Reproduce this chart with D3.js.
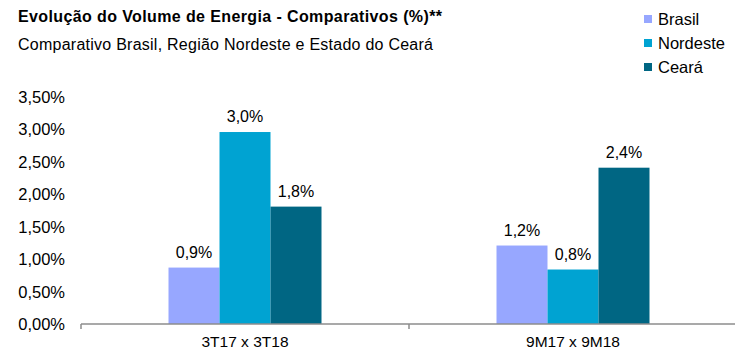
<!DOCTYPE html>
<html>
<head>
<meta charset="utf-8">
<script src="https://cdn.jsdelivr.net/npm/d3@7"></script>
<style>
  body { margin: 0; background: #fff; }
  text { font-family: "Liberation Sans", Arial, sans-serif; fill: #000; }
</style>
</head>
<body>
<div id="chart"></div>
<script>
const WIDTH = 735
const HEIGHT = 351

const categories = ["3T17 x 3T18", "9M17 x 9M18"]
const series = ["Brasil", "Nordeste", "Ceará"]
const colors = ["#97a7ff", "#00a3d2", "#006683"]
const brasil = [0.87, 1.21]
const nordeste = [2.96, 0.84]
const ceara = [1.81, 2.41]
const yTicks = [0, 0.5, 1, 1.5, 2, 2.5, 3, 3.5]

const values = [brasil, nordeste, ceara]
const rows = categories.map((c, i) => ({
    cat: c,
    vals: series.map((s, j) => ({ key: s, value: values[j][i], color: colors[j] }))
}))

const svg = d3.select("#chart")
    .append("svg")
    .attr("width", WIDTH)
    .attr("height", HEIGHT)

const PLOT_LEFT = 81, PLOT_RIGHT = 737, PLOT_BOTTOM = 324, PLOT_TOP = 97

const x0 = d3.scaleBand().domain(categories).range([PLOT_LEFT, PLOT_RIGHT])
const groupW = 153
const x1 = d3.scaleBand().domain(series)
    .range([(x0.bandwidth() - groupW) / 2, (x0.bandwidth() + groupW) / 2])
const y = d3.scaleLinear().domain([0, 3.5]).range([PLOT_BOTTOM, PLOT_TOP])

const fmt = v => d3.format(".2f")(v).replace(".", ",") + "%"
const fmt1 = v => d3.format(".1f")(v).replace(".", ",") + "%"

// y labels (no axis line)
svg.append("g")
    .selectAll("text")
    .data(yTicks)
    .join("text")
    .attr("x", 65)
    .attr("y", d => y(d) + 6)
    .attr("text-anchor", "end")
    .style("font-size", "16.5px")
    .text(fmt)

// bars
const g = svg.append("g")
    .selectAll("g")
    .data(rows)
    .join("g")
    .attr("transform", d => `translate(${x0(d.cat)},0)`)

g.selectAll("rect")
    .data(d => d.vals)
    .join("rect")
    .attr("x", d => x1(d.key))
    .attr("y", d => y(d.value))
    .attr("width", x1.bandwidth())
    .attr("height", d => PLOT_BOTTOM - y(d.value))
    .attr("fill", d => d.color)

g.selectAll("text.val")
    .data(d => d.vals)
    .join("text")
    .attr("class", "val")
    .attr("x", d => x1(d.key) + x1.bandwidth() / 2)
    .attr("y", d => y(d.value) - 10)
    .attr("text-anchor", "middle")
    .style("font-size", "16px")
    .text(d => fmt1(d.value))

// x axis
const xAxis = svg.append("g")
xAxis.append("line")
    .attr("x1", PLOT_LEFT).attr("x2", PLOT_RIGHT)
    .attr("y1", PLOT_BOTTOM).attr("y2", PLOT_BOTTOM)
    .attr("stroke", "#8c8c8c").attr("stroke-width", 1.5)
xAxis.selectAll("line.tick")
    .data([PLOT_LEFT, x0(categories[1])])
    .join("line")
    .attr("class", "tick")
    .attr("x1", d => d).attr("x2", d => d)
    .attr("y1", PLOT_BOTTOM).attr("y2", PLOT_BOTTOM + 5)
    .attr("stroke", "#8c8c8c").attr("stroke-width", 1.5)
xAxis.selectAll("text")
    .data(categories)
    .join("text")
    .attr("x", d => x0(d) + x0.bandwidth() / 2)
    .attr("y", 347)
    .attr("text-anchor", "middle")
    .style("font-size", "15.5px")
    .text(d => d)

// titles
svg.append("text")
    .attr("x", 18).attr("y", 22)
    .attr("textLength", 424)
    .attr("lengthAdjust", "spacing")
    .style("font-size", "16px")
    .style("font-weight", "bold")
    .text("Evolução  do Volume de Energia - Comparativos (%)**")
svg.append("text")
    .attr("x", 18).attr("y", 50)
    .attr("textLength", 415)
    .attr("lengthAdjust", "spacing")
    .style("font-size", "16px")
    .text("Comparativo  Brasil, Região  Nordeste e Estado do Ceará")

// legend
const legend = svg.append("g")
    .selectAll("g")
    .data(series)
    .join("g")
    .attr("transform", (d, i) => `translate(644,${19 + i * 24})`)
legend.append("rect")
    .attr("width", 8).attr("height", 8)
    .attr("y", -4)
    .attr("fill", (d, i) => colors[i])
legend.append("text")
    .attr("x", 14).attr("y", 6)
    .style("font-size", "16.5px")
    .text(d => d)
</script>
</body>
</html>
